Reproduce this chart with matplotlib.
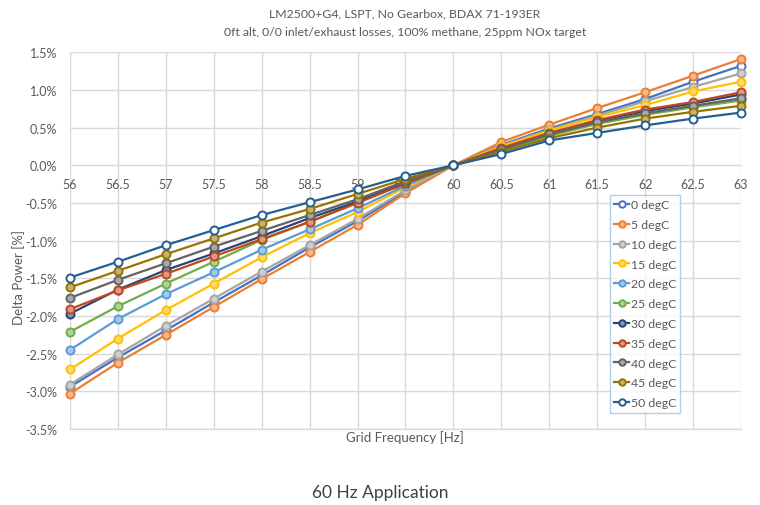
import matplotlib
matplotlib.use("Agg")
import matplotlib.pyplot as plt
from matplotlib.ticker import FuncFormatter, MultipleLocator
import matplotlib.colors as mcolors
import numpy as np

plt.rcParams['font.family'] = ['Lato', 'DejaVu Sans']

freq = [56, 56.5, 57, 57.5, 58, 58.5, 59, 59.5, 60, 60.5, 61, 61.5, 62, 62.5, 63]
labels = ["0 degC", "5 degC", "10 degC", "15 degC", "20 degC", "25 degC",
          "30 degC", "35 degC", "40 degC", "45 degC", "50 degC"]
d0 = [-2.94, -2.55, -2.19, -1.82, -1.46, -1.09, -0.74, -0.35, 0, 0.27, 0.49, 0.68, 0.88, 1.11, 1.32]
d5 = [-3.03, -2.62, -2.25, -1.88, -1.51, -1.15, -0.79, -0.37, 0, 0.31, 0.54, 0.76, 0.97, 1.19, 1.41]
d10 = [-2.91, -2.51, -2.13, -1.77, -1.41, -1.06, -0.71, -0.33, 0, 0.26, 0.47, 0.66, 0.85, 1.04, 1.22]
d15 = [-2.71, -2.30, -1.92, -1.57, -1.22, -0.90, -0.62, -0.29, 0, 0.25, 0.46, 0.64, 0.80, 0.98, 1.11]
d20 = [-2.45, -2.04, -1.71, -1.42, -1.12, -0.85, -0.57, -0.27, 0, 0.21, 0.40, 0.56, 0.68, 0.78, 0.88]
d25 = [-2.21, -1.87, -1.57, -1.28, -0.99, -0.75, -0.49, -0.24, 0, 0.20, 0.39, 0.55, 0.67, 0.77, 0.86]
d30 = [-1.97, -1.65, -1.39, -1.17, -0.94, -0.70, -0.48, -0.23, 0, 0.22, 0.42, 0.59, 0.72, 0.82, 0.94]
d35 = [-1.91, -1.66, -1.44, -1.21, -0.98, -0.75, -0.50, -0.24, 0, 0.23, 0.43, 0.60, 0.74, 0.84, 0.97]
d40 = [-1.76, -1.52, -1.30, -1.08, -0.87, -0.66, -0.45, -0.21, 0, 0.21, 0.41, 0.57, 0.69, 0.79, 0.89]
d45 = [-1.62, -1.40, -1.18, -0.97, -0.76, -0.58, -0.38, -0.18, 0, 0.18, 0.36, 0.50, 0.62, 0.71, 0.79]
d50 = [-1.49, -1.28, -1.06, -0.86, -0.66, -0.49, -0.32, -0.14, 0, 0.15, 0.33, 0.43, 0.53, 0.62, 0.70]
series = [d0, d5, d10, d15, d20, d25, d30, d35, d40, d45, d50]
colors = ["#4472C4", "#ED7D31", "#A5A5A5", "#FFC000", "#5B9BD5", "#70AD47",
          "#264478", "#C0461E", "#636363", "#997300", "#255E91"]
ytick_vals = [1.5, 1.0, 0.5, 0.0, -0.5, -1.0, -1.5, -2.0, -2.5, -3.0, -3.5]

fig = plt.figure(figsize=(7.6, 5.06), dpi=100)
ax = fig.add_axes([70/760, 1-430/506, 671/760, 376.7/506])

def tint(c, f):
    r = np.array(mcolors.to_rgb(c))
    return tuple(r + (1 - r) * f)

for i, (lab, vals, c) in enumerate(zip(labels, series, colors)):
    fc = "white" if lab in ("0 degC", "50 degC") else tint(c, 0.45)
    ax.plot(freq, vals, color=c, lw=1.6, marker="o", ms=5.8, mew=1.4,
            mfc=fc, mec=c, label=lab, zorder=3 + i * 0.01, clip_on=False)

ax.set_xlim(56, 63)
ax.set_ylim(-3.5, 1.5)
ax.xaxis.set_major_locator(MultipleLocator(0.5))
ax.set_yticks(ytick_vals)
ax.yaxis.set_major_formatter(FuncFormatter(lambda v, p: f"{v:.1f}%"))
ax.xaxis.set_major_formatter(FuncFormatter(lambda v, p: f"{v:g}"))
ax.grid(True, color="#D9D9D9", lw=1.0, zorder=0)
for s in ["top", "right", "left"]:
    ax.spines[s].set_visible(False)
ax.spines["bottom"].set_position(("data", 0))
ax.spines["bottom"].set_color("#D9D9D9")
ax.spines["bottom"].set_zorder(1)
ax.tick_params(axis="both", length=0, colors="#595959", labelsize=9)
ax.tick_params(axis="x", pad=9)
ax.tick_params(axis="y", pad=9)
ax.axhline(-3.5, color="#D9D9D9", lw=1.0, zorder=0, clip_on=False)

fig.text(19/760, 1-(165.8+112)/506, "Delta Power [%]", color="#595959", fontsize=9.5,
         rotation=90, ha="center", va="center")
fig.text(405/760, 1-438/506, "Grid Frequency [Hz]", color="#595959", fontsize=9.5,
         ha="center", va="center")
fig.text(405/760, 1-14/506, "LM2500+G4, LSPT, No Gearbox, BDAX 71-193ER",
         color="#595959", fontsize=8.8, ha="center", va="center")
fig.text(405/760, 1-32/506, "0ft alt, 0/0 inlet/exhaust losses, 100% methane, 25ppm NOx target",
         color="#595959", fontsize=8.8, ha="center", va="center")
fig.text(380/760, 1-493/506, "60 Hz Application", color="#404040", fontsize=12.5,
         ha="center", va="center")

leg = ax.legend(loc="upper left", bbox_to_anchor=((610-70)/671, (430-196)/376.7),
                frameon=True, fancybox=False, fontsize=8.8, handlelength=1.2,
                handletextpad=0.15, labelspacing=0.72, borderpad=0.35,
                borderaxespad=0, markerscale=0.8)
leg.get_frame().set_edgecolor("#9DC3E6")
leg.get_frame().set_linewidth(1.0)
for t in leg.get_texts():
    t.set_color("#595959")

fig.savefig("out.png", dpi=100)
